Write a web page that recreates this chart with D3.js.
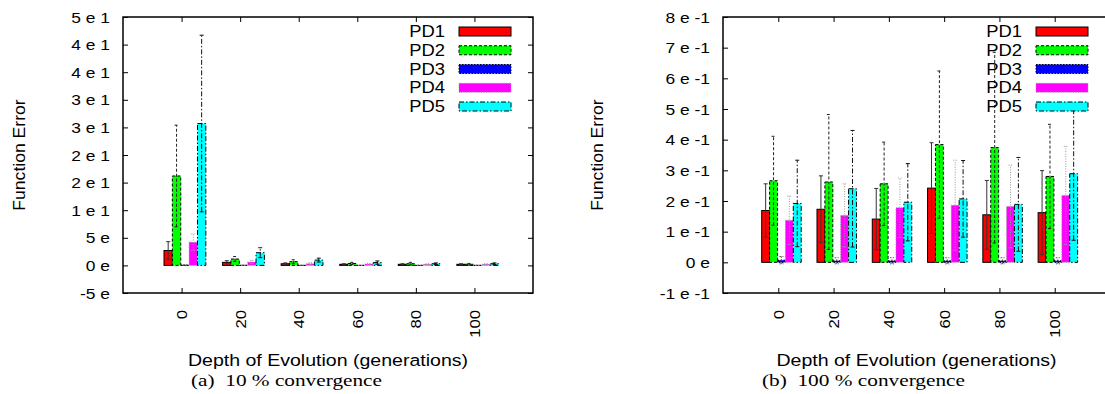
<!DOCTYPE html>
<html>
<head>
<meta charset="utf-8">
<script src="https://cdn.jsdelivr.net/npm/d3@7"></script>
<style>
  body { margin: 0; background: #fff; }
  svg { display: block; }
</style>
</head>
<body>
<div class="svg-container"></div>
<script>
//categories and series
const groups = ['0', '20', '40', '60', '80', '100'];
const series = ['PD1', 'PD2', 'PD3', 'PD4', 'PD5'];
const colors = ['#ff0000', '#00ff00', '#0000ff', '#ff00ff', '#00ffff'];

//(a) 10 % convergence: mean and std dev, one row per series
const meanA = [
    [2.7, 0.55, 0.3, 0.2, 0.2, 0.2],
    [16.2, 1.15, 0.67, 0.35, 0.3, 0.2],
    [0.05, 0.02, 0.01, 0.01, 0.01, 0.01],
    [4.2, 0.6, 0.3, 0.25, 0.2, 0.2],
    [25.7, 2.3, 0.96, 0.5, 0.3, 0.3]
];
const sdA = [
    [1.6, 0.3, 0.15, 0.1, 0.1, 0.1],
    [9.2, 0.45, 0.35, 0.2, 0.25, 0.15],
    [0.05, 0.02, 0.01, 0.01, 0.01, 0.01],
    [1.5, 0.3, 0.2, 0.1, 0.1, 0.1],
    [16, 0.9, 0.35, 0.3, 0.15, 0.15]
];

//(b) 100 % convergence
const meanB = [
    [0.169, 0.173, 0.141, 0.242, 0.155, 0.162],
    [0.266, 0.262, 0.256, 0.384, 0.374, 0.28],
    [0.007, 0.005, 0.005, 0.005, 0.005, 0.005],
    [0.137, 0.153, 0.178, 0.186, 0.182, 0.218],
    [0.192, 0.24, 0.196, 0.207, 0.189, 0.289]
];
const sdB = [
    [0.087, 0.109, 0.1, 0.148, 0.112, 0.137],
    [0.145, 0.22, 0.136, 0.24, 0.311, 0.17],
    [0.012, 0.01, 0.01, 0.01, 0.01, 0.01],
    [0.079, 0.103, 0.097, 0.147, 0.135, 0.16],
    [0.141, 0.19, 0.126, 0.125, 0.153, 0.217]
];

//tick values and labels
const yTicksA = [-5, 0, 5, 10, 15, 20, 25, 30, 35, 40, 45];
const yLabelsA = ['-5 e', '0 e', '5 e', '1 e 1', '2 e 1', '2 e 1', '3 e 1', '3 e 1', '4 e 1', '4 e 1', '5 e 1'];
const yTicksB = [-0.1, 0, 0.1, 0.2, 0.3, 0.4, 0.5, 0.6, 0.7, 0.8];
const yLabelsB = ['-1 e -1', '0 e', '1 e -1', '2 e -1', '3 e -1', '4 e -1', '5 e -1', '6 e -1', '7 e -1', '8 e -1'];

//line styles (outline and error bars)
const outline = [
    { dash: null, color: '#000', err: '#333' },
    { dash: '3,2', color: '#000', err: '#222' },
    { dash: '1.5,1.5', color: '#000', err: '#555' },
    { dash: '1,1.5', color: '#999', err: '#999' },
    { dash: '5,2,1.5,2', color: '#000', err: '#111' }
];

const width = 1105;
const height = 394;
const top_y = 17;
const bottom_y = 293;
const font = 'Liberation Sans, Arial, Helvetica, sans-serif';

const svg = d3.select('.svg-container')
    .append('svg')
    .attr('width', width)
    .attr('height', height);

//text stretched along its own direction
const stretchText = (parent, x, y, str, size, anchor, sx, rot) => {
    return parent.append('text')
        .attr('transform', `translate(${x},${y}) rotate(${rot || 0}) scale(${sx},1)`)
        .attr('text-anchor', anchor)
        .attr('dy', '0.35em')
        .attr('font-size', size)
        .attr('font-family', font)
        .attr('fill', '#000')
        .text(str);
};

const panels = [
    { left: 123, right: 533, domain: [-5, 45], ticks: yTicksA, labels: yLabelsA,
      means: meanA, sds: sdA, ytitle: 19, caption: '(a)  10 % convergence', capX: 191, capW: 191 },
    { left: 723, right: 1110, domain: [-0.1, 0.8], ticks: yTicksB, labels: yLabelsB,
      means: meanB, sds: sdB, ytitle: 597, caption: '(b)  100 % convergence', capX: 762, capW: 203 }
];

panels.forEach(p => {
    const xScale = d3.scaleLinear().domain([-1, 6]).range([p.left, p.right]);
    const yScale = d3.scaleLinear().domain(p.domain).range([bottom_y, top_y]);
    const bw = xScale(1 / 7) - xScale(0);

    //bars
    series.forEach((s, si) => {
        svg.append('g')
            .selectAll('rect')
            .data(p.means[si])
            .join('rect')
            .attr('x', (d, i) => xScale(i - 0.3 + si / 7))
            .attr('y', d => yScale(d))
            .attr('width', bw)
            .attr('height', d => yScale(0) - yScale(d))
            .attr('fill', colors[si])
            .attr('stroke', outline[si].color)
            .attr('stroke-width', 1)
            .attr('stroke-dasharray', outline[si].dash);
    });

    //error bars
    series.forEach((s, si) => {
        const eg = svg.append('g')
            .attr('stroke', outline[si].err)
            .attr('stroke-width', 1)
            .attr('stroke-dasharray', outline[si].dash)
            .attr('fill', 'none');
        const cx = i => xScale(i - 0.3 + (si + 0.5) / 7);
        const rows = p.means[si].map((m, i) => ({ i, lo: m - p.sds[si][i], hi: m + p.sds[si][i] }));
        eg.selectAll('.err')
            .data(rows)
            .join('line')
            .attr('class', 'err')
            .attr('x1', d => cx(d.i)).attr('x2', d => cx(d.i))
            .attr('y1', d => yScale(d.lo)).attr('y2', d => yScale(d.hi));
        eg.selectAll('.cap-hi')
            .data(rows)
            .join('line')
            .attr('class', 'cap-hi')
            .attr('stroke-dasharray', null)
            .attr('x1', d => cx(d.i) - 2).attr('x2', d => cx(d.i) + 2)
            .attr('y1', d => yScale(d.hi)).attr('y2', d => yScale(d.hi));
        eg.selectAll('.cap-lo')
            .data(rows)
            .join('line')
            .attr('class', 'cap-lo')
            .attr('stroke-dasharray', null)
            .attr('x1', d => cx(d.i) - 2).attr('x2', d => cx(d.i) + 2)
            .attr('y1', d => yScale(d.lo)).attr('y2', d => yScale(d.lo));
    });

    //frame
    svg.append('rect')
        .attr('x', p.left)
        .attr('y', top_y)
        .attr('width', p.right - p.left)
        .attr('height', bottom_y - top_y)
        .attr('fill', 'none')
        .attr('stroke', '#000')
        .attr('stroke-width', 1.5);

    const styleTicks = g => {
        g.select('.domain').remove();
        g.selectAll('line').attr('stroke', '#000');
    };

    //y axis left with labels
    svg.append('g')
        .attr('transform', `translate(${p.left},0)`)
        .call(d3.axisLeft(yScale).tickValues(p.ticks).tickFormat((d, i) => p.labels[i]).tickSize(-5))
        .call(styleTicks)
        .call(g => g.selectAll('text')
            .attr('x', -13 / 1.2)
            .attr('dy', '0.35em')
            .attr('transform', 'scale(1.2,1)')
            .attr('font-size', 14.5)
            .attr('font-family', font)
            .attr('fill', '#000'));

    //y axis right ticks
    svg.append('g')
        .attr('transform', `translate(${p.right},0)`)
        .call(d3.axisRight(yScale).tickValues(p.ticks).tickFormat('').tickSize(-5))
        .call(styleTicks);

    //x axis bottom with rotated labels
    svg.append('g')
        .attr('transform', `translate(0,${bottom_y})`)
        .call(d3.axisBottom(xScale).tickValues(d3.range(groups.length)).tickFormat(i => groups[i]).tickSize(-5))
        .call(styleTicks)
        .call(g => g.selectAll('text')
            .attr('x', -17 / 1.15)
            .attr('y', 0)
            .attr('dy', '0.35em')
            .attr('text-anchor', 'end')
            .attr('transform', 'rotate(-90) scale(1.15,1)')
            .attr('font-size', 14.5)
            .attr('font-family', font)
            .attr('fill', '#000'));

    //x axis top ticks
    svg.append('g')
        .attr('transform', `translate(0,${top_y})`)
        .call(d3.axisTop(xScale).tickValues(d3.range(groups.length)).tickFormat('').tickSize(-5))
        .call(styleTicks);

    //legend
    series.forEach((s, si) => {
        const ly = 31.5 + si * 18.75;
        stretchText(svg, p.right - 88, ly, s, 16, 'end', 1.15);
        svg.append('rect')
            .attr('x', p.right - 74)
            .attr('y', ly - 4.5)
            .attr('width', 52)
            .attr('height', 9)
            .attr('fill', colors[si])
            .attr('stroke', outline[si].color)
            .attr('stroke-width', 1)
            .attr('stroke-dasharray', outline[si].dash);
    });

    //titles
    stretchText(svg, p.ytitle, 155, 'Function Error', 16, 'middle', 1.1, -90);
    stretchText(svg, xScale(2.5), 360, 'Depth of Evolution (generations)', 17, 'middle', 1.15);

    svg.append('text')
        .attr('x', p.capX)
        .attr('y', 386)
        .attr('font-size', 16.5)
        .attr('font-family', 'Liberation Serif, Times New Roman, serif')
        .attr('textLength', p.capW)
        .attr('lengthAdjust', 'spacingAndGlyphs')
        .style('white-space', 'pre')
        .attr('fill', '#000')
        .text(p.caption);
});
</script>
</body>
</html>
